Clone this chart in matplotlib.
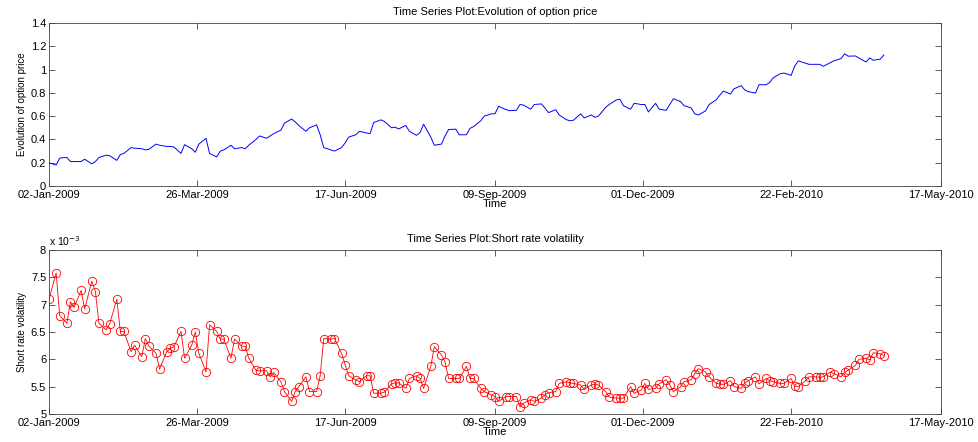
import numpy as np
import pandas as pd
import matplotlib
matplotlib.use("Agg")
import matplotlib.pyplot as plt
import matplotlib.dates as mdates
from matplotlib.ticker import FuncFormatter

plt.rcParams['font.family'] = ['Liberation Sans', 'DejaVu Sans']
plt.rcParams['font.size'] = 8

# sampled every 2nd business day from 02-Jan-2009
start_date = '2009-01-02'

option_price = [
    0.20, 0.18, 0.24, 0.245, 0.21,
    0.21, 0.21, 0.23, 0.19, 0.21,
    0.245, 0.265, 0.26, 0.22, 0.27,
    0.28, 0.33, 0.325, 0.32, 0.31,
    0.315, 0.36, 0.35, 0.34, 0.34,
    0.335, 0.28, 0.355, 0.32, 0.29,
    0.36, 0.41, 0.28, 0.25, 0.30,
    0.31, 0.35, 0.32, 0.33, 0.32,
    0.35, 0.40, 0.43, 0.41, 0.43,
    0.45, 0.48, 0.54, 0.575, 0.55,
    0.52, 0.47, 0.50, 0.525, 0.44,
    0.33, 0.31, 0.30, 0.33, 0.37,
    0.42, 0.44, 0.47, 0.455, 0.45,
    0.545, 0.568, 0.555, 0.50, 0.505,
    0.49, 0.52, 0.47, 0.435, 0.46,
    0.53, 0.42, 0.35, 0.36, 0.43,
    0.485, 0.488, 0.44, 0.44, 0.495,
    0.51, 0.56, 0.60, 0.62, 0.62,
    0.685, 0.657, 0.647, 0.65, 0.70,
    0.695, 0.66, 0.70, 0.705, 0.67,
    0.63, 0.655, 0.61, 0.57, 0.56,
    0.565, 0.62, 0.585, 0.61, 0.59,
    0.60, 0.675, 0.70, 0.739, 0.745,
    0.69, 0.66, 0.71, 0.70, 0.70,
    0.636, 0.71, 0.66, 0.65, 0.70,
    0.75, 0.725, 0.69, 0.67, 0.62,
    0.61, 0.645, 0.70, 0.74, 0.78,
    0.815, 0.79, 0.835, 0.862, 0.825,
    0.81, 0.798, 0.87, 0.87, 0.89,
    0.93, 0.965, 0.97, 0.95, 1.03,
    1.075, 1.055, 1.045, 1.045, 1.045,
    1.028, 1.06, 1.075, 1.095, 1.135,
    1.115, 1.117, 1.10, 1.065, 1.10,
    1.08, 1.09, 1.125,
]

# short rate volatility, in units of 1e-3
short_vol_e3 = [
    7.10, 7.58, 6.80, 6.66, 7.05,
    6.95, 7.26, 6.92, 7.43, 7.24,
    6.66, 6.54, 6.65, 7.10, 6.51,
    6.51, 6.14, 6.26, 6.05, 6.38,
    6.24, 6.11, 5.82, 6.14, 6.20,
    6.23, 6.51, 6.02, 6.26, 6.50,
    6.11, 5.77, 6.63, 6.51, 6.37,
    6.37, 6.02, 6.37, 6.24, 6.24,
    6.02, 5.80, 5.79, 5.79, 5.68,
    5.76, 5.59, 5.41, 5.23, 5.41,
    5.50, 5.68, 5.41, 5.41, 5.70,
    6.38, 6.37, 6.38, 6.11, 5.90,
    5.70, 5.62, 5.59, 5.70, 5.70,
    5.38, 5.38, 5.40, 5.55, 5.57,
    5.57, 5.47, 5.65, 5.70, 5.65,
    5.47, 5.87, 6.23, 6.08, 5.95,
    5.65, 5.65, 5.65, 5.87, 5.65,
    5.65, 5.47, 5.41, 5.35, 5.32,
    5.23, 5.32, 5.32, 5.32, 5.13,
    5.20, 5.26, 5.23, 5.29, 5.35,
    5.39, 5.41, 5.56, 5.59, 5.57,
    5.56, 5.53, 5.45, 5.53, 5.55,
    5.53, 5.41, 5.31, 5.29, 5.29,
    5.29, 5.50, 5.38, 5.44, 5.56,
    5.45, 5.47, 5.55, 5.63, 5.53,
    5.41, 5.50, 5.59, 5.63, 5.74,
    5.83, 5.77, 5.68, 5.56, 5.55,
    5.54, 5.61, 5.50, 5.47, 5.57,
    5.61, 5.68, 5.55, 5.65, 5.61,
    5.59, 5.56, 5.56, 5.65, 5.51,
    5.50, 5.61, 5.68, 5.68, 5.67,
    5.68, 5.77, 5.74, 5.68, 5.77,
    5.80, 5.89, 6.00, 6.02, 5.99,
    6.12, 6.10, 6.07,
]

tick_dates = ['2009-01-02', '2009-03-26', '2009-06-17', '2009-09-09',
              '2009-12-01', '2010-02-22', '2010-05-17']

dates = pd.bdate_range(start_date, periods=len(option_price), freq='2B')

fig = plt.figure(figsize=(9.79, 4.42), dpi=100)
ax1 = fig.add_axes([49/979, 1-186/442, 892/979, 163/442])
ax2 = fig.add_axes([49/979, 1-414/442, 892/979, 164/442])

ax1.plot(dates, option_price, color='#0000ff', lw=0.7)
ax2.plot(dates, short_vol_e3, color='#ff0000', lw=0.6, marker='o',
         markersize=6, markerfacecolor='none', markeredgewidth=0.6)

xt = pd.to_datetime(tick_dates)
for ax in (ax1, ax2):
    ax.set_xlim(xt[0], xt[-1])
    ax.set_xticks(xt)
    ax.xaxis.set_major_formatter(mdates.DateFormatter('%d-%b-%Y'))
    ax.tick_params(direction='in', top=True, right=True, length=4,
                   width=0.6, color='#444444', labelsize=8)
    ax.tick_params(axis='x', pad=3)
    ax.tick_params(axis='y', pad=2)
    ax.yaxis.set_major_formatter(FuncFormatter(lambda v, p: '%g' % round(v, 3)))
    for s in ax.spines.values():
        s.set_linewidth(0.6)
        s.set_color('#444444')
    ax.set_xlabel('Time', labelpad=-1, fontsize=8)

ax1.set_ylim(0, 1.4)
ax1.set_yticks(np.arange(0, 1.41, 0.2))
ax1.set_ylabel('Evolution of option price', labelpad=3, fontsize=7)
ax1.set_title('Time Series Plot:Evolution of option price', fontsize=8, pad=6)

ax2.set_ylim(5, 8)
ax2.set_yticks(np.arange(5, 8.01, 0.5))
ax2.set_ylabel('Short rate volatility', labelpad=3, fontsize=7)
ax2.set_title('Time Series Plot:Short rate volatility', fontsize=8, pad=6)
ax2.text(0, 1.012, 'x 10$^{-3}$', transform=ax2.transAxes, ha='left', va='bottom', fontsize=7.5)

fig.savefig('out.png', dpi=100)
